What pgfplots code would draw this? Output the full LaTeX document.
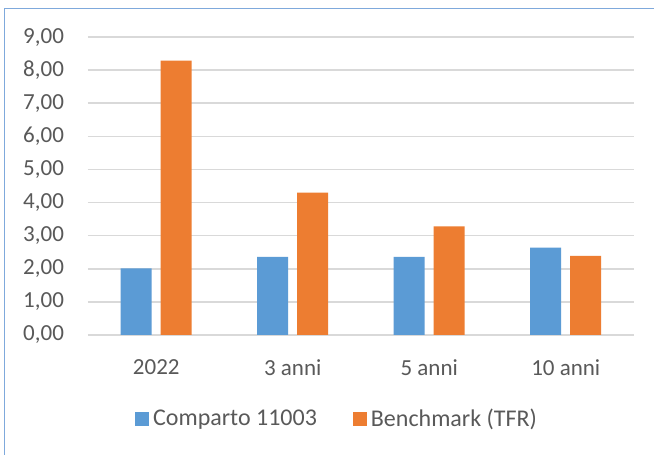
\documentclass[border=0pt]{standalone}
\usepackage{pgfplots}
\pgfplotsset{compat=1.18}
\usepackage{fontspec}
\setmainfont{Carlito}
\definecolor{cblue}{HTML}{5B9BD5}
\definecolor{corange}{HTML}{ED7D31}
\definecolor{cgrid}{HTML}{D9D9D9}
\definecolor{ctext}{HTML}{595959}
\definecolor{cframe}{HTML}{7FA9DC}
\begin{document}
\begin{tikzpicture}
\useasboundingbox (-44pt,-60pt) rectangle (283pt,167.5pt);
\fill[white] (-44pt,-60pt) rectangle (283pt,167.5pt);
\draw[cframe, line width=0.8pt] (-41.75pt,-61pt) -- (-41.75pt,163.25pt) -- (284pt,163.25pt);
\begin{axis}[
  at={(0,0)}, anchor=south west,
  scale only axis,
  width=273pt, height=149pt,
  ybar=4.5pt, bar width=15.5pt,
  xmin=-0.5, xmax=3.5,
  ymin=0, ymax=9,
  xtick=data,
  xticklabels={2022,3 anni,5 anni,10 anni},
  ytick={0,1,...,9},
  ymajorgrids,
  grid style={cgrid, line width=0.75pt},
  axis line style={draw=none},
  major tick length=0pt,
  tick label style={font=\fontsize{11.5}{13}\selectfont, text=ctext},
  yticklabel style={xshift=-8.5pt},
  xticklabel style={yshift=-9pt},
  /pgf/number format/assume math mode=true,
  yticklabel={\pgfmathprintnumber[fixed, fixed zerofill, precision=2, use comma]{\tick}},
  legend columns=2,
  legend style={draw=none, at={(0.458,-0.282)}, anchor=center,
    font=\fontsize{12}{14}\selectfont, text=ctext,
    /tikz/every even column/.append style={column sep=16pt}},
  legend image code/.code={\fill[#1] (0pt,-3.5pt) rectangle (7pt,3.5pt);},
]
\addplot[fill=cblue, draw=none] coordinates {(0,2.01) (1,2.36) (2,2.36) (3,2.64)};
\addplot[fill=corange, draw=none] coordinates {(0,8.29) (1,4.30) (2,3.28) (3,2.39)};
\legend{Comparto 11003, Benchmark (TFR)}
\end{axis}
\end{tikzpicture}
\end{document}
